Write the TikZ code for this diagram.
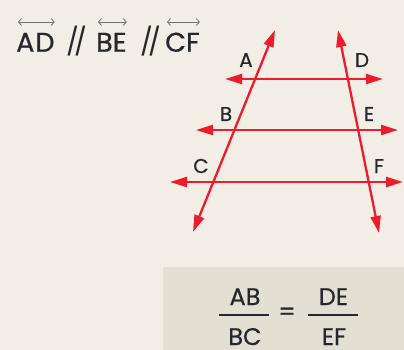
\documentclass[tikz,border=0pt]{standalone}
\usepackage{fontspec}
\setmainfont{Poppins}[FakeBold=0.6]
\newfontfamily\slashfont{Poppins}
\usetikzlibrary{arrows.meta}
\definecolor{bg}{HTML}{F2EEE5}
\definecolor{boxbg}{HTML}{E4DFD3}
\definecolor{redline}{HTML}{EC1C2C}
\definecolor{ink}{HTML}{26262E}
\definecolor{arrowgray}{HTML}{707070}
\begin{document}
\begin{tikzpicture}[x=1pt,y=-1pt,
  redl/.style={draw=redline, line width=2.3pt,
    {Triangle[length=17pt,width=10pt]}-{Triangle[length=17pt,width=10pt]}},
  lbl/.style={font=\fontsize{20}{22}\selectfont, text=ink, inner sep=0pt, anchor=base},
  toptext/.style={font=\fontsize{27}{30}\selectfont, text=ink, inner sep=0pt, anchor=base west},
  frac/.style={font=\fontsize{24}{26}\selectfont, text=ink, inner sep=0pt, anchor=base},
  ov/.style={draw=arrowgray, line width=0.8pt,
    {Straight Barb[length=3pt,width=7pt]}-{Straight Barb[length=3pt,width=7pt]}},
  fbar/.style={draw=ink, line width=1.3pt}]
\useasboundingbox (0,0) rectangle (404,350);
\fill[bg] (0,0) rectangle (404,350);
\fill[boxbg] (163,267) rectangle (404,350);

% top statement
\node[toptext] (tAD) at (16,51.7) {A\kern1pt D};
\node[toptext] (s1) at (66,51.7) {\slashfont /\kern-5pt/};
\node[toptext] (tBE) at (96,51.7) {BE};
\node[toptext] (s2) at (140,51.7) {\slashfont /\kern-5pt/};
\node[toptext] (tCF) at (165,51.7) {CF};
\foreach \n in {tAD,tBE,tCF}{
  \draw[ov] ([yshift=29.7pt,xshift=2pt]\n.base west) -- ([yshift=29.7pt]\n.base east);
}

% red lines
\coordinate (L1) at (275,30);
\coordinate (L2) at (193,232);
\coordinate (R1) at (338,30);
\coordinate (R2) at (379,233);
\coordinate (ADl) at (225,79);
\coordinate (ADr) at (383,79);
\coordinate (BEl) at (196,130);
\coordinate (BEr) at (398,130);
\coordinate (CFl) at (170,182);
\coordinate (CFr) at (403,182);
\draw[redl] (ADl) -- (ADr);
\draw[redl] (BEl) -- (BEr);
\draw[redl] (CFl) -- (CFr);
\draw[redl] (L2) -- (L1);
\draw[redl] (R2) -- (R1);

% point labels
\node[lbl] (A) at (246,67) {A};
\node[lbl] (D) at (362,67) {D};
\node[lbl] (B) at (226,121) {B};
\node[lbl] (E) at (369,121) {E};
\node[lbl] (C) at (201,173) {C};
\node[lbl] (F) at (379,173) {F};

% fraction
\node[frac] (AB) at (245,305) {AB};
\node[frac] (BC) at (245,345) {BC};
\node[frac] (DE) at (333.5,305) {DE};
\node[frac] (EF) at (334,345) {EF};
\node[frac] (eq) at (287,320) {=};
\coordinate (b1l) at (219,315);
\coordinate (b1r) at (269,315);
\coordinate (b2l) at (308,315);
\coordinate (b2r) at (358,315);
\draw[fbar] (b1l) -- (b1r);
\draw[fbar] (b2l) -- (b2r);
\end{tikzpicture}
\end{document}
